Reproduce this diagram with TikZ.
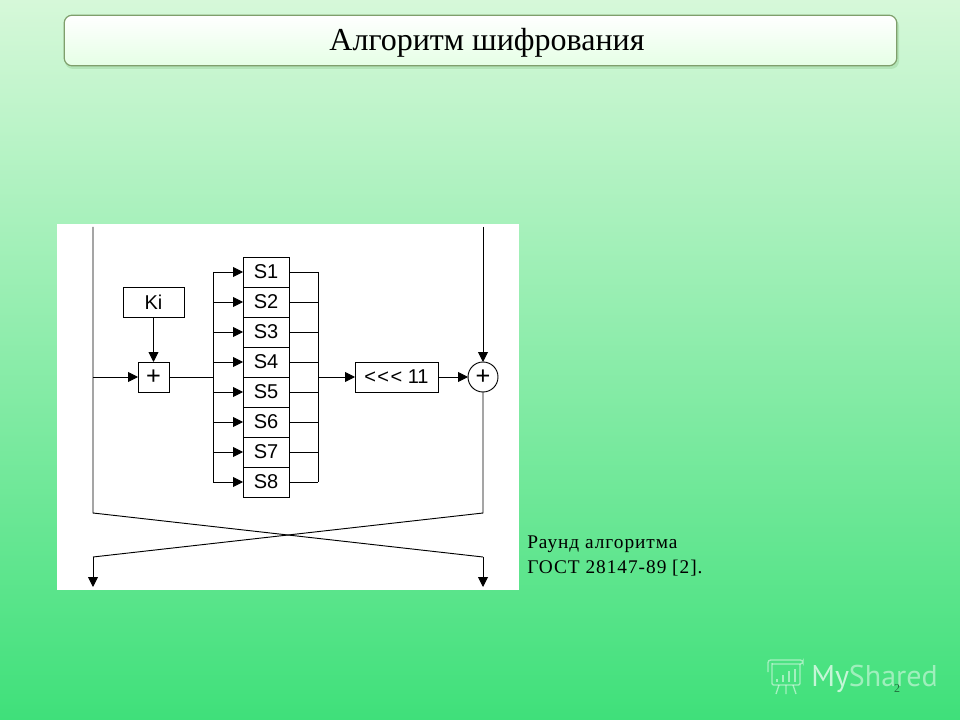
\documentclass[tikz,border=0pt]{standalone}
\usepackage{fontspec}
\setmainfont{Liberation Serif}
\newfontfamily\diagfont{Liberation Sans}
\newfontfamily\markfont{PT Sans}
\newfontfamily\capfont[LetterSpace=5]{Liberation Serif}
\usetikzlibrary{arrows.meta,calc}
\definecolor{bgtop}{HTML}{D6F8D9}
\definecolor{bgmid}{HTML}{92EEAA}
\definecolor{bgbot}{HTML}{3FE07A}
\definecolor{titleedge}{HTML}{7F9F6C}
\tikzset{
  conn/.style={draw=black,line width=0.7pt},
  arr/.style={conn,-{Triangle[length=7.5pt,width=7.5pt]}},
  boxn/.style={draw=black,line width=0.7pt,fill=white,inner sep=0pt,outer sep=0pt,font=\diagfont\fontsize{15}{15}\selectfont},
  sbox/.style={boxn,minimum width=34.5pt,minimum height=22.5pt},
  captext/.style={anchor=base west,inner sep=0pt,font=\capfont\fontsize{14.5}{16}\selectfont},
  wm/.style={draw=white,draw opacity=0.5,line width=1pt}
}
\begin{document}
\begin{tikzpicture}[x=0.75pt,y=-0.75pt]
\useasboundingbox (0,0) rectangle (960,720);
\shade[top color=bgtop,middle color=bgmid,bottom color=bgbot] (0,0) rectangle (960,720);
% title bar
\fill[black!45!green!40,opacity=0.45,rounded corners=6pt] (65,18) rectangle (899,69);
\node[draw=titleedge,line width=0.9pt,rounded corners=6pt,top color=white,bottom color=green!10!white,
  minimum width=624.5pt,minimum height=38pt,inner sep=0pt,outer sep=0pt] (titlebar) at (480.5,40.5) {};
\node[anchor=base,inner sep=0pt,font=\fontsize{24}{26}\selectfont] (title) at (487,51) {Алгоритм шифрования};
% white panel
\fill[white] (57,224) rectangle (519,590);
% boxes
\node[boxn,minimum width=45.75pt,minimum height=22.5pt] (ki) at (153.5,302) {Ki};
\node[boxn,minimum width=23.25pt,minimum height=22.5pt,font=\diagfont\fontsize{19}{19}\selectfont] (plus) at (153.5,377) {+};
\foreach \i in {1,...,8}{
  \node[sbox] (s\i) at (266,{272+30*(\i-1)}) {S\i};
}
\node[boxn,minimum width=62.25pt,minimum height=22.5pt] (rot) at (396.5,377) {<\kern1pt<\kern1pt< 11};
\node[draw=black,line width=0.7pt,circle,fill=white,minimum size=22.5pt,inner sep=0pt,outer sep=0pt,font=\diagfont\fontsize{19}{19}\selectfont] (xor) at (483,377) {+};
% free ends and junctions
\coordinate (ltop) at (93,227);
\coordinate (rtop) at (483,227);
\coordinate (lmid) at (93,377);
\coordinate (lknee) at (93,513);
\coordinate (rknee) at (483,513);
\coordinate (lknee2) at (93,557);
\coordinate (rknee2) at (483,557);
\coordinate (lend) at (93,587);
\coordinate (rend) at (483,587);
\coordinate (busl) at (213,377);
\coordinate (busr) at (318,377);
% connectors
\draw[conn] (ltop) -- (lknee) -- (rknee2);
\draw[arr] (rknee2) -- (rend);
\draw[arr] (rtop) -- (xor.north);
\draw[conn] (xor.south) -- (rknee) -- (lknee2);
\draw[arr] (lknee2) -- (lend);
\draw[arr] (lmid) -- (plus.west);
\draw[arr] (ki.south) -- (plus.north);
\draw[conn] (plus.east) -- (busl);
\draw[conn] (busl |- s1.west) -- (busl |- s8.west);
\draw[conn] (busr |- s1.east) -- (busr |- s8.east);
\foreach \i in {1,...,8}{
  \draw[arr] (busl |- s\i.west) -- (s\i.west);
  \draw[conn] (s\i.east) -- (busr |- s\i.east);
}
\draw[arr] (busr) -- (rot.west);
\draw[arr] (rot.east) -- (xor.west);
% caption
\node[captext] (cap1) at (527,548) {Раунд алгоритма};
\node[captext] (cap2) at (527,573) {ГОСТ 28147-89 [2].};
% watermark
\draw[wm,rounded corners=1pt] (772,663) -- (772,685) -- (800,685) -- (800,664);
\draw[wm,rounded corners=2pt] (768,672) -- (768,660) -- (803,660) -- (803,664) -- (772,664);
\draw[wm] (777,682) -- (777,679) (783,682) -- (783,675) (789,682) -- (789,671) (795,682) -- (795,669);
\draw[wm] (779,685) -- (776,694) (786,685) -- (786,694) (793,685) -- (796,694);
\node[anchor=base west,inner sep=0pt,font=\markfont\fontsize{22.5}{22}\selectfont,text=white!70!bgbot] (wmtext) at (811,686) {My\textcolor{white!50!bgbot}{Shared}};
\node[anchor=base,inner sep=0pt,font=\fontsize{9}{9}\selectfont,text=black!50!bgbot] (page) at (897,692) {2};
\end{tikzpicture}
\end{document}
